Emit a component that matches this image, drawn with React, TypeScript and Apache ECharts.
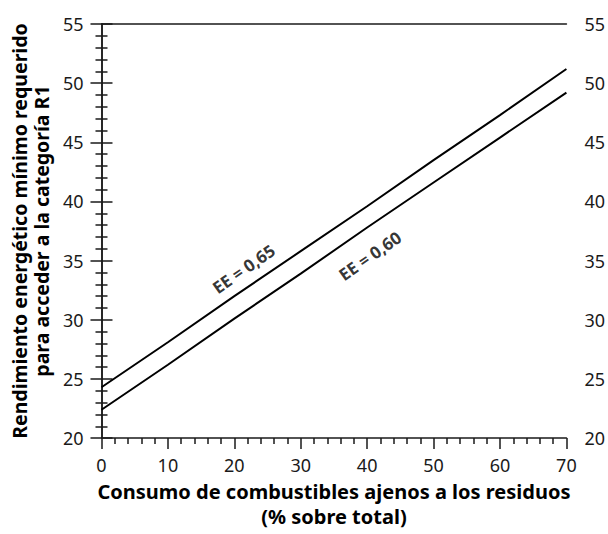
import React, { useEffect, useRef } from "react";
import * as echarts from "echarts";

const xValues = [0, 10, 20, 30, 40, 50, 60, 70];
const ee065 = [24.3, 28.1, 32.0, 35.8, 39.6, 43.5, 47.3, 51.2];
const ee060 = [22.4, 26.2, 30.1, 33.9, 37.8, 41.6, 45.4, 49.2];
const lineLabels = [
  { x: 21.4, y: 34.3, text: "EE = 0,65" },
  { x: 40.4, y: 35.4, text: "EE = 0,60" },
];
const xTitle = "Consumo de combustibles ajenos a los residuos\n(% sobre total)";
const yTitle = "Rendimiento energético mínimo requerido\npara acceder a la categoría R1";

const FONT = "'Noto Sans', 'Open Sans', sans-serif";
const AXIS_COLOR = "#1a1a1a";

export default function App() {
  const ref = useRef<HTMLDivElement>(null);
  useEffect(() => {
    if (!ref.current) return;
    const chart = echarts.init(ref.current, undefined, { renderer: "svg" });
    const axisLine = { show: true, lineStyle: { color: AXIS_COLOR, width: 1.5 } };
    const axisTick = { show: true, inside: false, length: 11, lineStyle: { color: AXIS_COLOR, width: 1.5 } };
    const minorTick = { show: true, splitNumber: 5, length: 6, lineStyle: { color: AXIS_COLOR, width: 1.5 } };
    const axisLabel = { color: "#1a1a1a", fontSize: 18, fontFamily: FONT, margin: 18 };
    const yBase = {
      type: "value",
      min: 20,
      max: 55,
      interval: 5,
      axisLine,
      axisTick,
      minorTick,
      axisLabel,
      splitLine: { show: false },
      minorSplitLine: { show: false },
    };
    chart.setOption({
      animation: false,
      backgroundColor: "#fff",
      grid: { left: 97, right: 39, top: 24, bottom: 82, containLabel: false },
      xAxis: [
        {
          type: "value",
          min: 0,
          max: 70,
          interval: 10,
          position: "bottom",
          axisLine,
          axisTick,
          minorTick,
          axisLabel,
          splitLine: { show: false },
          name: xTitle,
          nameLocation: "middle",
          nameGap: 35,
          nameTextStyle: { color: "#000", fontSize: 20, fontWeight: "bold", fontFamily: FONT, lineHeight: 25 },
        },
        {
          type: "value",
          min: 0,
          max: 70,
          position: "top",
          axisLine,
          axisTick: { show: false },
          axisLabel: { show: false },
          splitLine: { show: false },
        },
      ],
      yAxis: [
        {
          ...yBase,
          position: "left",
          name: yTitle,
          nameLocation: "middle",
          nameGap: 41,
          nameTextStyle: { color: "#000", fontSize: 19.5, fontWeight: "bold", fontFamily: FONT, lineHeight: 22 },
        },
        { ...yBase, position: "right" },
      ],
      series: [
        {
          type: "line",
          data: xValues.map((x, i) => [x, ee065[i]]),
          symbol: "none",
          lineStyle: { color: "#000", width: 2 },
        },
        {
          type: "line",
          data: xValues.map((x, i) => [x, ee060[i]]),
          symbol: "none",
          lineStyle: { color: "#000", width: 2 },
        },
        {
          type: "scatter",
          symbolSize: 0,
          data: lineLabels.map((l) => [l.x, l.y, l.text]),
          label: {
            show: true,
            position: "inside",
            rotate: 35,
            formatter: (p: any) => p.value[2],
            color: "#000",
            fontSize: 17,
            fontWeight: "bold",
            fontFamily: FONT,
          },
          silent: true,
        },
      ],
    });
    return () => chart.dispose();
  }, []);
  return (
    <div
      ref={ref}
      style={{ position: "fixed", left: 0, top: 0, width: 608, height: 534 }}
    />
  );
}
